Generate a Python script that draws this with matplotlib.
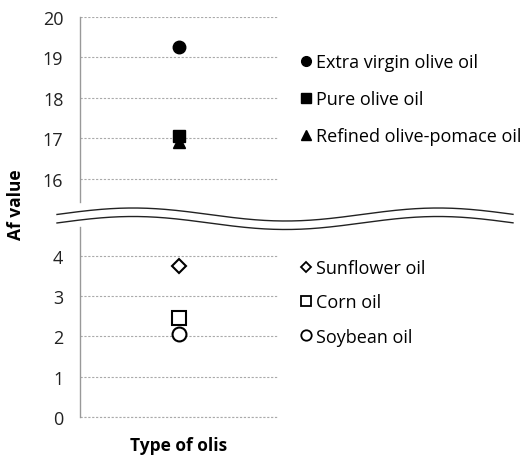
import numpy as np
import matplotlib.pyplot as plt
from matplotlib.lines import Line2D

plt.rcParams['font.family'] = ['Open Sans', 'DejaVu Sans']

# données
oils_top = ["Extra virgin olive oil", "Pure olive oil", "Refined olive-pomace oil"]
af_top = [19.25, 17.05, 16.9]
marks_top = ["o", "s", "^"]

oils_bottom = ["Sunflower oil", "Corn oil", "Soybean oil"]
af_bottom = [3.75, 2.45, 2.05]
marks_bottom = ["D", "s", "o"]
sizes_bottom = [7, 10, 10]

ticks_top = [16, 17, 18, 19, 20]
ticks_bottom = [0, 1, 2, 3, 4]

W, H = 531, 460
fig = plt.figure(figsize=(W / 100, H / 100), dpi=100)

def px_axes(x0, y0, x1, y1):
    return fig.add_axes([x0 / W, 1 - y1 / H, (x1 - x0) / W, (y1 - y0) / H])

ax_top = px_axes(80, 18, 278, 203)
ax_bot = px_axes(80, 228, 278, 418)

for ax in (ax_top, ax_bot):
    for s in ("top", "right", "bottom"):
        ax.spines[s].set_visible(False)
    ax.spines["left"].set_color("#999999")
    ax.spines["left"].set_linewidth(1.0)
    ax.set_xlim(0, 2)
    ax.set_xticks([])
    ax.tick_params(axis="y", length=0, pad=12, labelsize=13, labelcolor="#222222")
    ax.grid(axis="y", linestyle=(0, (2, 1.5)), color="#aaaaaa", linewidth=0.8)
    ax.set_axisbelow(True)

ax_top.set_ylim(15.43, 20)
ax_top.set_yticks(ticks_top)
ax_bot.set_ylim(0, 4.72)
ax_bot.set_yticks(ticks_bottom)

ax_bot.axhline(0, color="#aaaaaa", linestyle=(0, (2, 1.5)), linewidth=0.8, clip_on=False)

# points
for v, m in zip(af_top, marks_top):
    ax_top.plot([1], [v], marker=m, color="black", markersize=9, linestyle="none",
                clip_on=False)
for v, m, s in zip(af_bottom, marks_bottom, sizes_bottom):
    ax_bot.plot([1], [v], marker=m, markerfacecolor="white", markeredgecolor="black",
                markeredgewidth=1.5, markersize=s, linestyle="none", clip_on=False)

# légendes
h_top = [Line2D([], [], marker=m, color="black", linestyle="none", markersize=7)
         for m in marks_top]
fig.legend(h_top, oils_top, loc="upper left", bbox_to_anchor=(284 / W, 1 - 38 / H),
           frameon=False, handlelength=0.6, handletextpad=0.3,
           labelspacing=1.05, fontsize=13)
h_bot = [Line2D([], [], marker=m, markerfacecolor="white", markeredgecolor="black",
                markeredgewidth=1.3, linestyle="none", markersize=s * 0.75)
         for m, s in zip(marks_bottom, sizes_bottom)]
fig.legend(h_bot, oils_bottom, loc="upper left", bbox_to_anchor=(284 / W, 1 - 244 / H),
           frameon=False, handlelength=0.6, handletextpad=0.3,
           labelspacing=0.9, fontsize=13)

# symbole de coupure de l'axe
xs = np.linspace(57, 513, 300)
y_up = 215.5 - 6.5 * np.cos(2 * np.pi * (xs - 133) / 305)
y_lo = y_up + 8.5
ov = fig.add_axes([0, 0, 1, 1])
ov.set_xlim(0, W)
ov.set_ylim(H, 0)
ov.axis("off")
ov.fill_between(xs, y_up, y_lo, color="white", zorder=1)
ov.plot(xs, y_up, color="#222222", linewidth=1.0, zorder=2)
ov.plot(xs, y_lo, color="#222222", linewidth=1.0, zorder=2)

fig.text(16 / W, 1 - 205 / H, "Af value", rotation=90, ha="center", va="center",
         fontsize=12.5, fontweight="bold")
fig.text(179 / W, 1 - 446 / H, "Type of olis", ha="center", va="center",
         fontsize=12.5, fontweight="bold")

fig.savefig("out.png", dpi=100)
